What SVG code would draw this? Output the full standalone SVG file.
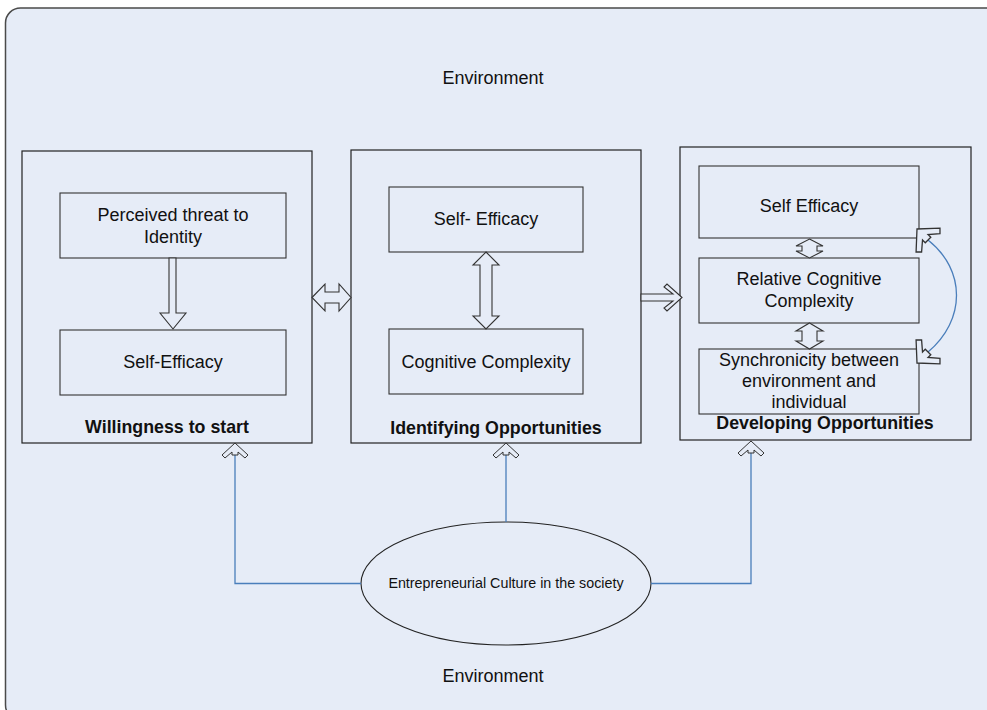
<svg xmlns="http://www.w3.org/2000/svg" width="987" height="710" viewBox="0 0 987 710">
<defs>
<style>
.bg{fill:#E6ECF7;stroke:#4a4a4a;stroke-width:1.5}
.box{fill:none;stroke:#222;stroke-width:1.2}
.inner{fill:none;stroke:#333;stroke-width:1.1}
.blk{fill:#E6ECF7;stroke:#333;stroke-width:1.1}
.t{font-family:"Liberation Sans",Arial,sans-serif;font-size:18px;fill:#111;text-anchor:middle}
.b{font-family:"Liberation Sans",Arial,sans-serif;font-size:17.8px;font-weight:bold;fill:#111;text-anchor:middle}
.env{font-family:"Liberation Sans",Arial,sans-serif;font-size:18px;fill:#111;text-anchor:middle}
.blue{fill:none;stroke:#4A7EBB;stroke-width:1.3}
</style>
<polygon id="chev" points="0,0 13,12 10,15 3,9 3,12 -3,12 -3,9 -10,15 -13,12" fill="#E6ECF7" stroke="#333" stroke-width="1"/>
</defs>
<rect class="bg" x="5.5" y="8" width="1010" height="712" rx="15"/>
<text class="env" x="493" y="84">Environment</text>
<text class="env" x="493" y="682">Environment</text>

<g id="willingness">
<rect class="box" x="22" y="151" width="290" height="292"/>
<text class="b" x="167" y="433">Willingness to start</text>
</g>
<g id="threat">
<rect class="inner" x="60" y="193" width="226" height="65"/>
<text class="t" x="173" y="221">Perceived threat to</text>
<text class="t" x="173" y="243">Identity</text>
</g>
<g id="selfefficacy1">
<rect class="inner" x="60" y="330" width="226" height="65"/>
<text class="t" x="173" y="368">Self-Efficacy</text>
</g>

<g id="identifying">
<rect class="box" x="351" y="150" width="290" height="293"/>
<text class="b" x="496" y="434">Identifying Opportunities</text>
</g>
<g id="selfefficacy2">
<rect class="inner" x="389" y="187" width="194" height="65"/>
<text class="t" x="486" y="225">Self- Efficacy</text>
</g>
<g id="cognitive">
<rect class="inner" x="389" y="329" width="194" height="65"/>
<text class="t" x="486" y="368">Cognitive Complexity</text>
</g>

<g id="developing">
<rect class="box" x="680" y="147" width="291" height="293"/>
<text class="b" x="825" y="429">Developing Opportunities</text>
</g>
<g id="selfefficacy3">
<rect class="inner" x="699" y="166" width="220" height="72"/>
<text class="t" x="809" y="212">Self Efficacy</text>
</g>
<g id="relative">
<rect class="inner" x="699" y="258" width="220" height="65"/>
<text class="t" x="809" y="285">Relative Cognitive</text>
<text class="t" x="809" y="307">Complexity</text>
</g>
<g id="synchronicity">
<rect class="inner" x="699" y="349" width="220" height="65"/>
<text class="t" x="809" y="366">Synchronicity between</text>
<text class="t" x="809" y="387">environment and</text>
<text class="t" x="809" y="408">individual</text>
</g>

<g id="culture">
<ellipse cx="506" cy="583.5" rx="145" ry="61.5" fill="none" stroke="#222" stroke-width="1.1"/>
<text class="t" style="font-size:14.3px" x="506" y="588">Entrepreneurial Culture in the society</text>
</g>

<g id="connectors">
<polygon class="blk" points="173,329 186,313 176,313 176,258 169,258 169,313 160,313"/>
<polygon class="blk" points="312,297.5 325,284 325,292 339,292 339,284 351,297.5 339,311 339,303 325,303 325,311"/>
<polygon class="blk" points="486,252 499,265 492,265 492,316 499,316 486,329 473,316 480,316 480,265 473,265"/>
<polygon class="blk" points="682,297.5 667,284 664,287 673,294 641,294 641,301 673,301 664,308 667,311"/>
<polygon class="blk" points="809.5,239 823,246 817,246 817,251 823,251 809.5,258 796,251 802,251 802,246 796,246"/>
<polygon class="blk" points="809.5,323 823,331 817,331 817,341 823,341 809.5,349 796,341 802,341 802,331 796,331"/>
<polyline class="blue" points="361,583.5 235,583.5 235,455"/>
<polyline class="blue" points="506,522 506,455"/>
<polyline class="blue" points="651,583.5 751,583.5 751,453"/>
<path class="blue" d="M928,240 C966,270 966,320 928,352"/>
<use href="#chev" transform="translate(235,443)"/>
<use href="#chev" transform="translate(506,443)"/>
<use href="#chev" transform="translate(751,441)"/>
<use href="#chev" transform="translate(917,229) rotate(-45) scale(1.3)"/>
<use href="#chev" transform="translate(917,363) rotate(-135) scale(1.3)"/>
</g>
</svg>
